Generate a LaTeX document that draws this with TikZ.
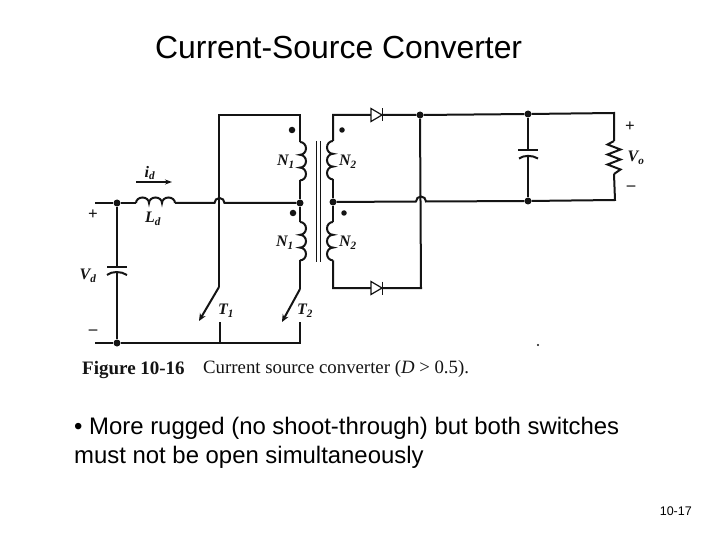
\documentclass[tikz,border=0pt]{standalone}
\usepackage{fontspec}
\setmainfont{Liberation Sans}
\newfontfamily\scanserif{Liberation Serif}
\usetikzlibrary{arrows.meta}
\definecolor{ink}{gray}{0.08}
\tikzset{
  wire/.style={draw=ink,line width=2pt,line join=miter},
  junction/.style={circle,fill=ink,inner sep=0pt,minimum size=7pt},
  polarity/.style={circle,fill=ink,inner sep=0pt,minimum size=6.5pt},
  sym/.style={text=ink,inner sep=0pt,font=\scanserif\bfseries\itshape\fontsize{16}{18}\selectfont},
  sign/.style={text=ink,inner sep=0pt,font=\scanserif\bfseries\fontsize{17}{18}\selectfont},
  slide/.style={text=black,inner sep=0pt,anchor=west},
  switch/.style={draw=ink,line width=2pt,-{Stealth[length=7.5pt,width=6.5pt]}},
  diode/.style={draw=ink,line width=1.2pt,fill=white},
}
\newcommand{\coilR}[1]{\draw[wire] (#1) arc[start angle=90,end angle=-90,x radius=6pt,y radius=6.4pt] arc[start angle=90,end angle=-90,x radius=6pt,y radius=6.4pt] arc[start angle=90,end angle=-90,x radius=6pt,y radius=6.4pt];}
\newcommand{\coilL}[1]{\draw[wire] (#1) arc[start angle=90,end angle=270,x radius=6pt,y radius=6.4pt] arc[start angle=90,end angle=270,x radius=6pt,y radius=6.4pt] arc[start angle=90,end angle=270,x radius=6pt,y radius=6.4pt];}
\newcommand{\diodeAt}[1]{\draw[diode] ([xshift=-6pt,yshift=6.5pt]#1) -- ([xshift=5pt]#1) -- ([xshift=-6pt,yshift=-6.5pt]#1) -- cycle; \draw[ink,line width=1.8pt] ([xshift=5.5pt,yshift=6.5pt]#1) -- ([xshift=5.5pt,yshift=-6.5pt]#1);}
\begin{document}
\begin{tikzpicture}[x=1pt,y=-1pt]
\useasboundingbox (0,0) rectangle (720,540);
\fill[white] (0,0) rectangle (720,540);
% title and slide text
\node[slide,font=\fontsize{31.9}{36}\selectfont] (title) at (155,48) {Current-Source Converter};
\node[slide,font=\fontsize{23.9}{28}\selectfont] (b1) at (74,428) {• More rugged (no shoot-through) but both switches};
\node[slide,font=\fontsize{23.9}{28}\selectfont] (b2) at (74,457) {must not be open simultaneously};
\node[text=black,inner sep=0pt,anchor=east,font=\fontsize{12.5}{14}\selectfont] (page) at (692,511) {10-17};
% coordinates
\coordinate (inL) at (95,203);
\node[junction] (jP) at (117,203) {};
\coordinate (Lin) at (136,203);
\coordinate (Lout) at (175,203);
\coordinate (hop1a) at (214.5,203);
\node[junction] (jC1) at (300,203) {};
\coordinate (T1top) at (219,115);
\coordinate (N1top) at (300,115);
\coordinate (c1a) at (300,142);
\coordinate (c1b) at (300,180.4);
\coordinate (c2a) at (300,222);
\coordinate (c2b) at (300,260.4);
\coordinate (T1s) at (219,287);
\coordinate (T1e) at (199,321);
\coordinate (T2s) at (300,289);
\coordinate (T2e) at (282,322);
\coordinate (T1c) at (220,322);
\coordinate (T2c) at (300,322);
\coordinate (jTb) at (220,343);
\coordinate (T2b) at (300,343);
\coordinate (inB) at (95,343);
\node[junction] (jN) at (117,343) {};
\coordinate (Cp) at (117,267);
\coordinate (Cn) at (117,272);
% input circuit
\draw[wire] (inL) -- (jP) -- (Lin);
\draw[wire] (Lin) arc[start angle=180,end angle=0,x radius=6.5pt,y radius=5.5pt] arc[start angle=180,end angle=0,x radius=6.5pt,y radius=5.5pt] arc[start angle=180,end angle=0,x radius=6.5pt,y radius=5.5pt];
\draw[wire] (Lout) -- (hop1a) arc[start angle=180,end angle=0,radius=5pt] -- (jC1);
\draw[wire] (jP) -- (Cp);
\draw[wire] (Cn) -- (jN);
\draw[wire] (107,267) -- (127,267);
\draw[wire] (107,275) .. controls (112,271) and (121,271) .. (127,275);
\draw[wire] (inB) -- (jN) -- (jTb) -- (T2b) -- (T2c);
\draw[wire] (jTb) -- (T1c);
\draw[wire] (T1s) -- (T1top) -- (N1top) -- (c1a);
\coilR{c1a}
\draw[wire] (c1b) -- (jC1) -- (c2a);
\coilR{c2a}
\draw[wire] (c2b) -- (T2s);
\draw[switch] (T1s) -- (T1e);
\draw[switch] (T2s) -- (T2e);
\node[polarity] (d1) at (292,130) {};
\node[polarity] (d2) at (293,213) {};
% core
\coordinate (core1t) at (316,141); \coordinate (core1b) at (316,262);
\coordinate (core2t) at (320.5,141); \coordinate (core2b) at (320.5,262);
\draw[ink,line width=1pt] (core1t) -- (core1b);
\draw[ink,line width=1pt] (core2t) -- (core2b);
% secondary
\coordinate (N2top) at (333,115);
\coordinate (c3a) at (333,141);
\coordinate (c3b) at (333,179.4);
\node[junction] (jS) at (333,202) {};
\coordinate (c4a) at (333,222);
\coordinate (c4b) at (333,260.4);
\coordinate (N2bot) at (333,288);
\node[junction] (jT) at (420,115) {};
\coordinate (rb) at (421,288);
\coordinate (hop2a) at (416,201.5);
\node[junction] (jCt) at (528,114) {};
\node[junction] (jCb) at (528,201) {};
\coordinate (Rt) at (614,113);
\coordinate (Rb) at (615,200);
\coordinate (Ra) at (614,141);
\coordinate (Rz) at (614,174);
\coordinate (D1) at (377,115);
\coordinate (D2) at (377,288);
\draw[wire] (jS) -- (c3b);
\draw[wire] (c3a) -- (N2top) -- (jT) -- (jCt) -- (Rt) -- (Ra);
\coilL{c3a}
\draw[wire] (jS) -- (c4a);
\coilL{c4a}
\draw[wire] (c4b) -- (N2bot) -- (rb) -- (jT);
\draw[wire] (jS) -- (hop2a) arc[start angle=180,end angle=0,radius=5pt] -- (jCb) -- (Rb) -- (Rz);
\draw[wire] (Ra) -- ++(-6.5,3.5) -- ++(13,5) -- ++(-13,5) -- ++(13,5) -- ++(-13,5) -- ++(13,5) -- (Rz);
\draw[wire] (jCt) -- (528,151);
\draw[wire] (528,157) -- (jCb);
\draw[wire] (518,150.5) -- (538,150.5);
\draw[wire] (519,158.5) .. controls (524,155) and (532,155) .. (538,158.5);
\diodeAt{D1}
\diodeAt{D2}
\node[polarity,minimum size=5.5pt] (d3) at (342,130) {};
\node[polarity,minimum size=5.5pt] (d4) at (344,213) {};
% circuit labels
\node[sym] (lid) at (150,173) {i\textsubscript{d}};
\coordinate (ia) at (136,182); \coordinate (ib) at (172,182);
\draw[ink,line width=1.3pt,-{Stealth[length=7pt,width=5pt]}] (ia) -- (ib);
\node[sym] (lL) at (153,219) {L\textsubscript{d}};
\node[sign] (lP) at (93,215) {+};
\node[sign] (lM) at (93,332) {–};
\node[sym] (lVd) at (88,276) {V\textsubscript{d}};
\node[sym] (lN1a) at (286,162) {N\textsubscript{1}};
\node[sym] (lN1b) at (285,243) {N\textsubscript{1}};
\node[sym] (lN2a) at (348,162) {N\textsubscript{2}};
\node[sym] (lN2b) at (348,243) {N\textsubscript{2}};
\node[sym] (lT1) at (226,311) {T\textsubscript{1}};
\node[sym] (lT2) at (305,311) {T\textsubscript{2}};
\node[sym] (lVo) at (636,158) {V\textsubscript{o}};
\node[sign] (lPo) at (630,127) {+};
\node[sign] (lMo) at (631,188) {–};
\fill[ink] (538,345) circle (1.2pt);
% caption
\node[slide,text=ink,font=\scanserif\bfseries\fontsize{19}{22}\selectfont] (capA) at (82,370) {Figure 10-16};
\node[slide,text=ink,font=\scanserif\fontsize{18.8}{22}\selectfont] (capB) at (203,369) {Current source converter (\textit{D} > 0.5).};
\end{tikzpicture}
\end{document}
